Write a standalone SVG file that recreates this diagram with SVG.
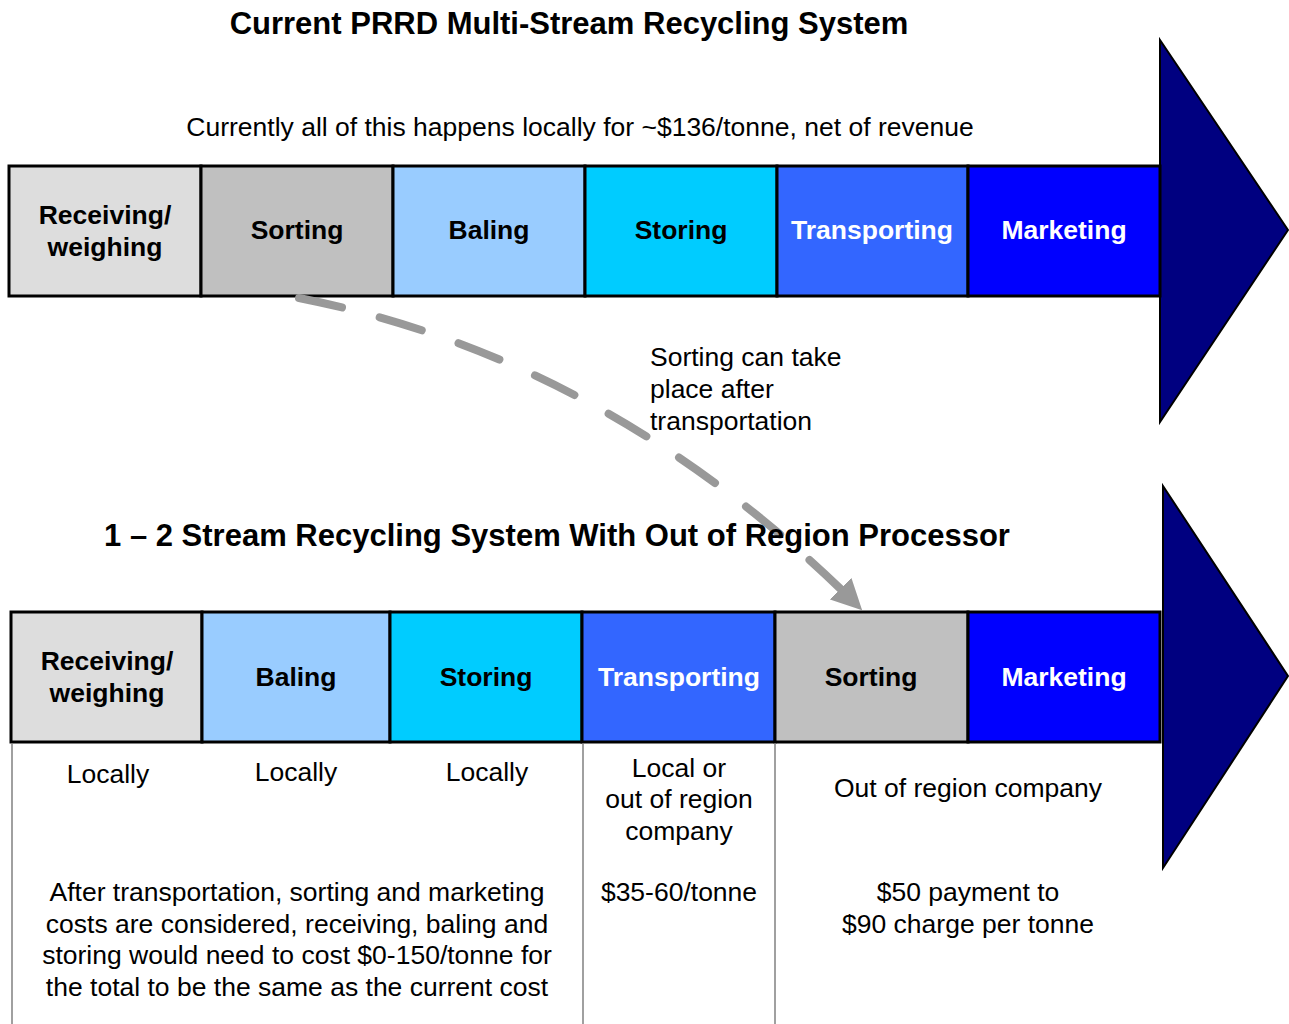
<svg xmlns="http://www.w3.org/2000/svg" width="1289" height="1024" viewBox="0 0 1289 1024">
<defs>
<style>
.cell{stroke:#000;stroke-width:3}
.lb{font-family:"Liberation Sans",Arial,sans-serif;font-weight:bold;font-size:26.5px;text-anchor:middle}
.tx{font-family:"Liberation Sans",Arial,sans-serif;font-size:26.5px;fill:#000}
.mid{text-anchor:middle}
.title{font-family:"Liberation Sans",Arial,sans-serif;font-weight:bold;font-size:31px;text-anchor:middle}
.arrow{fill:#000080;stroke:#000;stroke-width:2}
.grid{stroke:#808080;stroke-width:1.5}
</style>
<marker id="ah" viewBox="0 0 10 10" refX="9" refY="5" markerWidth="3.8" markerHeight="3.8" orient="auto" markerUnits="strokeWidth">
<path d="M0,0 L10,5 L0,10 Z" fill="#999"/>
</marker>
</defs>
<rect width="1289" height="1024" fill="#fff"/>

<text class="title" x="569" y="34">Current PRRD Multi-Stream Recycling System</text>
<text class="tx mid" x="580" y="136">Currently all of this happens locally for ~$136/tonne, net of revenue</text>

<g id="top-arrow"><polygon class="arrow" points="1160,40 1288,230 1160,422"/></g>
<g id="t-receiving"><rect class="cell" x="9" y="166" width="192" height="130" fill="#DDDDDD"/><text class="lb" x="105" y="224">Receiving/</text><text class="lb" x="105" y="256">weighing</text></g>
<g id="t-sorting"><rect class="cell" x="201" y="166" width="192" height="130" fill="#C0C0C0"/><text class="lb" x="297" y="239">Sorting</text></g>
<g id="t-baling"><rect class="cell" x="393" y="166" width="192" height="130" fill="#99CCFF"/><text class="lb" x="489" y="239">Baling</text></g>
<g id="t-storing"><rect class="cell" x="585" y="166" width="192" height="130" fill="#00CCFF"/><text class="lb" x="681" y="239">Storing</text></g>
<g id="t-transporting"><rect class="cell" x="777" y="166" width="191" height="130" fill="#3366FF"/><text class="lb" x="872" y="239" fill="#fff">Transporting</text></g>
<g id="t-marketing"><rect class="cell" x="968" y="166" width="192" height="130" fill="#0000FF"/><text class="lb" x="1064" y="239" fill="#fff">Marketing</text></g>

<g id="connectors">
<path d="M299,298 Q612,360 860,608" fill="none" stroke="#999" stroke-width="8" stroke-linecap="round" stroke-dasharray="44,39" marker-end="url(#ah)"/>
</g>

<text class="tx" x="650" y="366">Sorting can take</text>
<text class="tx" x="650" y="398">place after</text>
<text class="tx" x="650" y="430">transportation</text>

<text class="title" x="557" y="546">1 – 2 Stream Recycling System With Out of Region Processor</text>

<g id="bottom-arrow"><polygon class="arrow" points="1163,486 1288,676 1163,868"/></g>
<g id="b-receiving"><rect class="cell" x="11" y="612" width="191" height="130" fill="#DDDDDD"/><text class="lb" x="107" y="670">Receiving/</text><text class="lb" x="107" y="702">weighing</text></g>
<g id="b-baling"><rect class="cell" x="202" y="612" width="188" height="130" fill="#99CCFF"/><text class="lb" x="296" y="686">Baling</text></g>
<g id="b-storing"><rect class="cell" x="390" y="612" width="192" height="130" fill="#00CCFF"/><text class="lb" x="486" y="686">Storing</text></g>
<g id="b-transporting"><rect class="cell" x="582" y="612" width="193" height="130" fill="#3366FF"/><text class="lb" x="679" y="686" fill="#fff">Transporting</text></g>
<g id="b-sorting"><rect class="cell" x="775" y="612" width="193" height="130" fill="#C0C0C0"/><text class="lb" x="871" y="686">Sorting</text></g>
<g id="b-marketing"><rect class="cell" x="968" y="612" width="192" height="130" fill="#0000FF"/><text class="lb" x="1064" y="686" fill="#fff">Marketing</text></g>

<g id="table-lines">
<line class="grid" x1="12" y1="743" x2="12" y2="1024"/>
<line class="grid" x1="583" y1="743" x2="583" y2="1024"/>
<line class="grid" x1="775" y1="743" x2="775" y2="1024"/>
</g>

<text class="tx mid" x="108" y="783">Locally</text>
<text class="tx mid" x="296" y="781">Locally</text>
<text class="tx mid" x="487" y="781">Locally</text>
<text class="tx mid" x="679" y="777">Local or</text>
<text class="tx mid" x="679" y="808">out of region</text>
<text class="tx mid" x="679" y="840">company</text>
<text class="tx mid" x="968" y="797">Out of region company</text>
<text class="tx mid" x="297" y="901">After transportation, sorting and marketing</text>
<text class="tx mid" x="297" y="933">costs are considered, receiving, baling and</text>
<text class="tx mid" x="297" y="964">storing would need to cost $0-150/tonne for</text>
<text class="tx mid" x="297" y="996">the total to be the same as the current cost</text>
<text class="tx mid" x="679" y="901">$35-60/tonne</text>
<text class="tx mid" x="968" y="901">$50 payment to</text>
<text class="tx mid" x="968" y="933">$90 charge per tonne</text>
</svg>
